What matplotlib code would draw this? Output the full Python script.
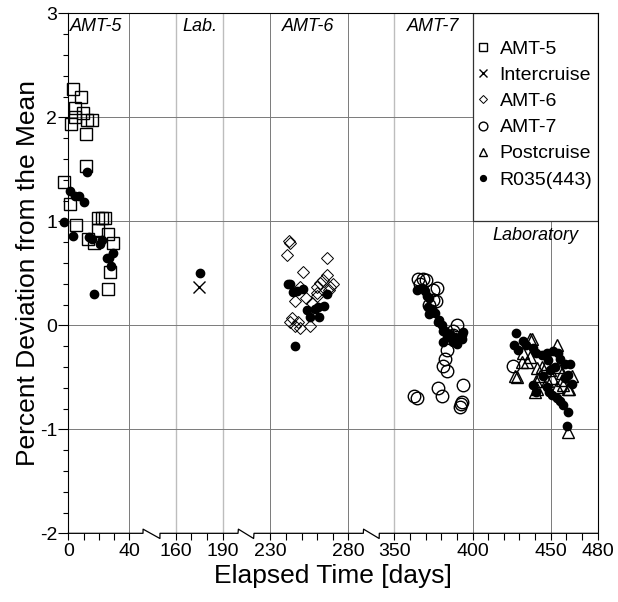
import numpy as np
import matplotlib
matplotlib.use("Agg")
import matplotlib.pyplot as plt
from matplotlib.patches import Rectangle

plt.rcParams['font.family'] = ['Liberation Sans', 'DejaVu Sans']
plt.rcParams['axes.unicode_minus'] = False

# AMT-5 cruise (squares)
amt5_day = [2.9, 8.3, 4.4, 9.4, 4.2, 1.6, 12.0, 15.8, 11.6, 11.6, -2.6, 1.1, 4.8,
            19.7, 21.9, 24.1, 19.7, 13.1, 16.9, 26.2, 29.1, 27.3, 25.8]
amt5_val = [2.27, 2.20, 2.09, 2.04, 2.00, 1.94, 1.97, 1.97, 1.84, 1.53, 1.38, 1.17, 0.96,
            1.03, 1.03, 1.03, 0.92, 0.83, 0.79, 0.88, 0.79, 0.51, 0.35]

# intercruise lab point (x)
inter_day = [174.8]
inter_val = [0.37]

# AMT-6 cruise (diamonds)
amt6_day = [242.2, 242.6, 240.5, 266.2, 250.8, 266.2, 261.9, 264.0, 270.0, 267.4, 259.7,
            260.1, 245.8, 252.9, 243.7, 242.6, 245.8, 249.0, 255.4, 248.0, 259.7, 268.3,
            249.0, 256.5]
amt6_val = [0.81, 0.79, 0.68, 0.65, 0.51, 0.48, 0.41, 0.44, 0.40, 0.34, 0.31,
            0.28, 0.23, 0.26, 0.07, 0.03, -0.01, -0.03, -0.01, 0.03, 0.37, 0.37,
            0.37, 0.21]

# AMT-7 cruise (circles)
amt7_day = [365.3, 368.5, 370.3, 366.4, 374.5, 377.1, 374.5, 376.6, 371.9, 389.9, 387.7,
            387.7, 383.5, 382.4, 380.9, 383.5, 362.6, 364.7, 377.7, 380.3, 393.7, 393.1,
            392.0, 392.5, 425.7]
amt7_val = [0.45, 0.45, 0.44, 0.40, 0.34, 0.36, 0.24, 0.23, 0.20, 0.00, -0.05,
            -0.09, -0.24, -0.32, -0.39, -0.44, -0.68, -0.70, -0.60, -0.68, -0.57, -0.74,
            -0.79, -0.76, -0.39]

# postcruise laboratory (triangles)
post_day = [437.8, 453.8, 431.4, 434.6, 427.1, 441.0, 444.2, 447.4, 454.8, 457.0, 461.2,
            439.9, 440.5, 450.6, 443.1, 447.4, 461.2, 432.4, 436.7, 453.8, 458.0, 428.2,
            441.0, 461.8, 436.7, 457.0, 463.4, 449.5]
post_val = [-0.13, -0.19, -0.35, -0.35, -0.49, -0.41, -0.40, -0.37, -0.40, -0.46, -0.61,
            -0.64, -0.54, -0.51, -0.49, -0.54, -1.03, -0.27, -0.30, -0.59, -0.57, -0.50,
            -0.61, -0.61, -0.13, -0.53, -0.49, -0.43]

# R035(443) reference radiometer (filled dots)
r035_day = [12.0, 1.1, 4.4, 7.2, 10.1, -2.6, 3.3, 13.8, 15.3, 21.9, 20.8, 29.1, 25.2,
            26.9, 27.8, 17.0,
            175.5,
            241.6, 244.4, 247.0, 250.8, 266.5, 253.3, 258.7, 260.8, 264.4, 255.4, 261.4,
            245.8, 242.8,
            364.7, 367.5, 369.6, 370.7, 372.4, 371.7, 373.9, 372.4, 376.0, 378.8, 380.3,
            382.4, 385.6, 383.5, 388.8, 393.1, 394.1, 381.3, 387.7, 390.3, 378.0, 380.8,
            385.1, 393.1,
            427.8, 426.5, 429.2, 432.4, 434.2, 438.8, 440.5, 444.2, 447.4, 451.2, 454.8,
            455.9, 459.1, 462.3, 452.7, 449.5, 447.4, 449.0, 450.6, 453.8, 455.9, 458.0,
            461.2, 460.2, 438.8, 440.5, 445.2, 448.4, 459.1, 463.4, 461.2]
r035_val = [1.47, 1.29, 1.24, 1.24, 1.19, 0.99, 0.86, 0.85, 0.83, 0.82, 0.78, 0.70, 0.65,
            0.65, 0.57, 0.30,
            0.50,
            0.40, 0.32, 0.33, 0.35, 0.30, 0.15, 0.16, 0.18, 0.19, 0.08, 0.08,
            -0.20, 0.40,
            0.34, 0.36, 0.33, 0.28, 0.26, 0.18, 0.16, 0.11, 0.12, 0.05, 0.00,
            -0.05, -0.08, -0.11, -0.11, -0.09, -0.06, -0.16, -0.16, -0.18, 0.03, -0.05,
            -0.11, -0.13,
            -0.07, -0.19, -0.24, -0.15, -0.19, -0.22, -0.27, -0.29, -0.27, -0.25, -0.27,
            -0.32, -0.37, -0.37, -0.40, -0.43, -0.59, -0.64, -0.67, -0.70, -0.73, -0.77,
            -0.83, -0.97, -0.57, -0.64, -0.49, -0.33, -0.51, -0.56, -0.48]

x_major = [0, 40, 160, 190, 230, 280, 350, 400, 450, 480]
x_minor = [10, 20, 30, 170, 180, 240, 250, 260, 270, 360, 370, 380, 390, 410, 420, 430,
           440, 460, 470]

# broken axis: day -> pixel-like coordinate (piecewise linear)
brk_day = np.array([-100, 40, 49, 150, 160, 190, 199.5, 220, 230, 280, 290, 340, 350, 480, 600])
brk_pix = np.array([-84.2, 129.3, 143, 160, 175.7, 223, 238, 254, 270.3, 348.3, 363.3,
                    379.3, 394.3, 597.7, 785.5])


def fwd(d):
    return np.interp(d, brk_day, brk_pix)


def inv(p):
    return np.interp(p, brk_pix, brk_day)


fig = plt.figure(figsize=(6.18, 6.02), dpi=100)
ax = fig.add_axes([0.1105, 0.1141, 0.8567, 0.8638])
ax.set_xscale('function', functions=(fwd, inv))
ax.set_xlim(0, 480)
ax.set_ylim(-2, 3)

ax.set_xticks(x_major)
ax.set_xticklabels([str(v) for v in x_major])
ax.set_xticks(x_minor, minor=True)
ax.set_yticks([-2, -1, 0, 1, 2, 3])
ax.set_yticklabels(['-2', '-1', '0', '1', '2', '3'])
ax.set_yticks(np.arange(-2, 3.01, 0.2), minor=True)

ax.tick_params(axis='both', which='major', labelsize=14, direction='out', width=0.8)
ax.tick_params(axis='y', which='major', length=7, pad=1)
ax.tick_params(axis='y', which='minor', length=3.5, width=0.8)
ax.tick_params(axis='x', which='major', length=5, pad=2)
ax.tick_params(axis='x', which='minor', length=5, width=0.8)

ax.grid(True, which='major', color='#7a7a7a', lw=0.7, zorder=0)
for v, gl in zip(x_major, ax.get_xgridlines()):
    if v in (160, 190, 350):
        gl.set_color('#bdbdbd')
        gl.set_linewidth(1.0)
ax.set_axisbelow(True)

for s in ('top', 'right', 'left'):
    ax.spines[s].set_linewidth(0.8)
ax.spines['bottom'].set_visible(False)

# bottom spine with break symbols
up = 0.04
dn = 0.05
bx = [0, 49, 49.5, 149.5, 150, 199.5, 200, 219.5, 220, 290, 290.8, 339.5, 340, 480]
by = [-2, -2, -2 + up, -2 - dn, -2, -2, -2 + up, -2 - dn, -2, -2, -2 + up, -2 - dn, -2, -2]
ax.plot(bx, by, color='black', lw=0.9, clip_on=False, zorder=5)

ax.plot(amt5_day, amt5_val, ls='none', marker='s', ms=9, mfc='none', mec='black',
        mew=1.0, clip_on=False, zorder=3, label='AMT-5')
ax.plot(inter_day, inter_val, ls='none', marker='x', ms=9, color='black', mew=1.0,
        zorder=3, label='Intercruise')
ax.plot(amt6_day, amt6_val, ls='none', marker='D', ms=6.5, mfc='none', mec='black',
        mew=0.7, zorder=3, label='AMT-6')
ax.plot(amt7_day, amt7_val, ls='none', marker='o', ms=9, mfc='none', mec='black',
        mew=1.0, zorder=3, label='AMT-7')
ax.plot(post_day, post_val, ls='none', marker='^', ms=9, mfc='none', mec='black',
        mew=1.0, zorder=3, label='Postcruise')
ax.plot(r035_day, r035_val, ls='none', marker='o', ms=6, color='black',
        clip_on=False, zorder=4, label='R035(443)')

ax.add_patch(Rectangle((400, 1), 80, 2, facecolor='white', edgecolor='#333333',
                       lw=0.9, zorder=2.5))
ax.legend(loc='upper left', bbox_to_anchor=(400.5, 2.76), bbox_transform=ax.transData,
          frameon=False, fontsize=14, markerscale=0.7, handlelength=0.8,
          handletextpad=0.45, labelspacing=0.44, borderaxespad=0, borderpad=0.1)

ax.text(1, 2.87, 'AMT-5', style='italic', fontsize=13, va='center', ha='left')
ax.text(175.6, 2.87, 'Lab.', style='italic', fontsize=13, va='center', ha='center')
ax.text(254, 2.87, 'AMT-6', style='italic', fontsize=13, va='center', ha='center')
ax.text(374.5, 2.87, 'AMT-7', style='italic', fontsize=13, va='center', ha='center')
ax.text(440, 0.86, 'Laboratory', style='italic', fontsize=13, va='center', ha='center')

ax.set_xlabel('Elapsed Time [days]', fontsize=19, labelpad=3)
ax.set_ylabel('Percent Deviation from the Mean', fontsize=19, labelpad=0)

fig.savefig('out.png', dpi=100)
